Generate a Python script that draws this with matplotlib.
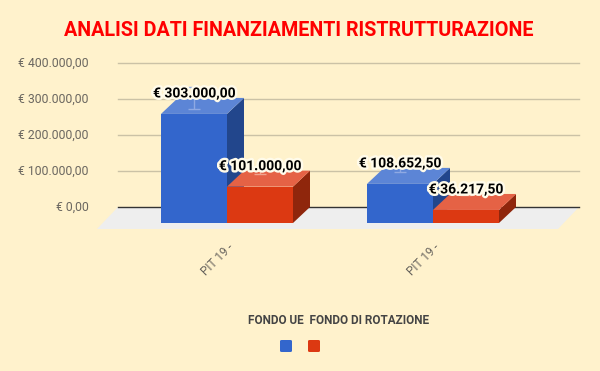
import matplotlib
matplotlib.use('Agg')
import matplotlib.pyplot as plt
import matplotlib.patheffects as pe
from matplotlib.patches import Polygon, FancyBboxPatch

plt.rcParams['font.family'] = ['Roboto', 'DejaVu Sans']

# data
categories = ['PIT 19 -', 'PIT 19 -']
series_names = ['FONDO UE', 'FONDO DI ROTAZIONE']
fondo_ue = [303000.00, 108652.50]
fondo_rotazione = [101000.00, 36217.50]
err_ue = [30300.0, 10865.0]
err_rotazione = [10100.0, 3622.0]
y_ticks = [0, 100000, 200000, 300000, 400000]

BG = '#fff2cc'
FRONT = ['#3366cc', '#dc3912']
TOP = ['#5c85d6', '#e56245']
SIDE = ['#22468c', '#8f260c']
ERR = ['#8fa9e3', '#f0a48e']

# layout, in pixels of the 600x371 image
W, H = 600, 371
CAT_PX = 206.0        # pixels between group centres
CAT0_PX = 227.0       # x of first group centre
BASE_PX = 223.0       # y (from top) of bar baseline
EUR_PX = 36.0 / 100000  # pixels per euro
BAR_W = 66.0 / CAT_PX
DX = 17.0 / CAT_PX    # 3d depth offset
DY = 16.0 / EUR_PX


def eur(v):
    s = '{:,.2f}'.format(v)
    return '€ ' + s.replace(',', 'X').replace('.', ',').replace('X', '.')


def fmt_px(px):
    return px / CAT_PX


fig = plt.figure(figsize=(W / 100, H / 100), dpi=100)
fig.patch.set_facecolor(BG)
ax = fig.add_axes([0, 0, 1, 1])
ax.set_xlim(-CAT0_PX / CAT_PX, (W - CAT0_PX) / CAT_PX)
ax.set_ylim(-(H - BASE_PX) / EUR_PX, BASE_PX / EUR_PX)
ax.axis('off')

n = len(categories)
back_l = -0.5 - fmt_px(6)
back_r = n - 0.5 + fmt_px(43)

# gridlines on the back plane
for t in y_ticks:
    ax.plot([back_l, back_r], [t + DY, t + DY],
            color='#333333' if t == 0 else '#cbc2a6', lw=1, zorder=1)
    ax.text(fmt_px(89 - CAT0_PX), t + DY, eur(t), ha='right', va='center',
            fontsize=8.8, color='#6b6760')

# floor
fl_dx, fl_dy = fmt_px(21), 22.0 / EUR_PX
floor = Polygon([(back_l, DY), (back_r, DY),
                 (back_r - fl_dx, DY - fl_dy), (back_l - fl_dx, DY - fl_dy)],
                closed=True, facecolor='#eeeeee', edgecolor='none', zorder=0.5)
ax.add_patch(floor)

series = [fondo_ue, fondo_rotazione]
errors = [err_ue, err_rotazione]
labels = []
for g in range(n):
    for s in range(len(series)):
        v = series[s][g]
        xl = g - BAR_W + s * BAR_W
        xr = xl + BAR_W
        front = [(xl, 0), (xr, 0), (xr, v), (xl, v)]
        top = [(xl, v), (xr, v), (xr + DX, v + DY), (xl + DX, v + DY)]
        side = [(xr, 0), (xr + DX, DY), (xr + DX, v + DY), (xr, v)]
        for pts, c in ((side, SIDE[s]), (top, TOP[s]), (front, FRONT[s])):
            ax.add_patch(Polygon(pts, closed=True, facecolor=c,
                                 edgecolor='none', zorder=2))
        xc = (xl + xr) / 2
        ax.errorbar([xc], [v + DY], yerr=[errors[s][g]], color=ERR[s],
                    lw=1, capsize=4, capthick=1, zorder=3)
        labels.append((xc, v + DY + 4.5 / EUR_PX, eur(v)))

for xc, y, txt in labels:
    ax.text(xc, y, txt, ha='center', va='center', fontsize=10,
            fontweight='bold', color='black', zorder=4,
            path_effects=[pe.withStroke(linewidth=3.5, foreground='#fffbea')])

# category labels
for g, cat in enumerate(categories):
    ax.text(g + fmt_px(5), -22.0 / EUR_PX, cat, rotation=45,
            rotation_mode='anchor', ha='right', va='center',
            fontsize=8.5, color='#6b6760')

fig.text(298.5 / W, 1 - 31 / H, 'ANALISI DATI FINANZIAMENTI RISTRUTTURAZIONE',
         ha='center', va='center', fontsize=14.2, fontweight='bold',
         color='#ff0000')

# legend
fig.text(338.5 / W, 1 - 321 / H, '  '.join(series_names), ha='center',
         va='center', fontsize=8.5, fontweight='bold', color='#444444')
for i, c in enumerate(FRONT):
    x0 = 280 + i * 28
    box = FancyBboxPatch((x0 / W, 19 / H), 12 / W, 12 / H,
                         boxstyle='round,pad=0,rounding_size=0.003',
                         transform=fig.transFigure, facecolor=c,
                         edgecolor='none')
    fig.patches.append(box)

fig.savefig('out.png', dpi=100, facecolor=BG)
